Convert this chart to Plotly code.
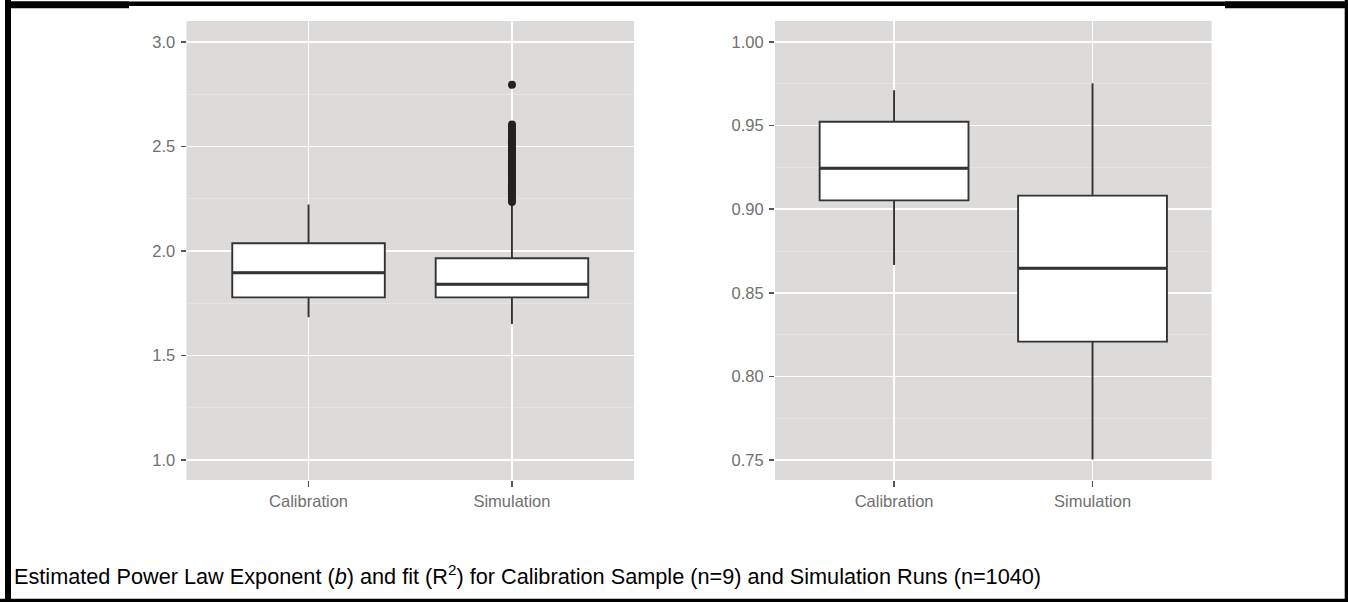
import plotly.graph_objects as go

W, H = 1348, 602

categories = ["Calibration", "Simulation"]

# Left panel: estimated power law exponent b
b_q1 = [1.778, 1.778]
b_median = [1.896, 1.841]
b_q3 = [2.037, 1.965]
b_lower = [1.683, 1.651]
b_upper = [2.223, 2.228]
b_outliers_sim = [2.235, 2.245, 2.255, 2.265, 2.275, 2.285, 2.295, 2.305, 2.315, 2.325,
                  2.335, 2.345, 2.355, 2.365, 2.375, 2.385, 2.395, 2.405, 2.415, 2.425,
                  2.435, 2.445, 2.455, 2.465, 2.475, 2.485, 2.495, 2.505, 2.515, 2.525,
                  2.535, 2.545, 2.555, 2.565, 2.575, 2.585, 2.595, 2.605, 2.795]

# Right panel: fit R^2
r_q1 = [0.9053, 0.8208]
r_median = [0.9245, 0.8647]
r_q3 = [0.9523, 0.9081]
r_lower = [0.8666, 0.7503]
r_upper = [0.9711, 0.9753]

left_ticks = [1.0, 1.5, 2.0, 2.5, 3.0]
left_ticktext = ["1.0", "1.5", "2.0", "2.5", "3.0"]
right_ticks = [0.75, 0.80, 0.85, 0.90, 0.95, 1.00]
right_ticktext = ["0.75", "0.80", "0.85", "0.90", "0.95", "1.00"]

caption = ("Estimated Power Law Exponent (<i>b</i>) and fit (R<sup>2</sup>) for "
           "Calibration Sample (n=9) and Simulation Runs (n=1040)")

FONT = "Liberation Sans, Arial, sans-serif"
BG = "#DCDBDA"
MINOR = "#E5E4E3"
BOXLINE = "#333333"
TICKC = "#707070"
BOXW = 0.75

pos = [1, 2]


def px_x(p):
    return p / W


def px_y(p):
    return 1 - p / H


fig = go.Figure()

panels = [
    ("x", "y", b_q1, b_median, b_q3, b_lower, b_upper),
    ("x2", "y2", r_q1, r_median, r_q3, r_lower, r_upper),
]
for xa, ya, q1, med, q3, lo, up in panels:
    fig.add_trace(go.Box(
        x=pos, q1=q1, median=med, q3=q3, lowerfence=lo, upperfence=up,
        width=BOXW, whiskerwidth=0, fillcolor="white",
        line=dict(color=BOXLINE, width=1.9), boxpoints=False,
        xaxis=xa, yaxis=ya, showlegend=False, hoverinfo="skip",
    ))
    # thicker median lines, as in ggplot
    for p, m in zip(pos, med):
        fig.add_trace(go.Scatter(
            x=[p - BOXW / 2, p + BOXW / 2], y=[m, m], mode="lines",
            line=dict(color=BOXLINE, width=3), xaxis=xa, yaxis=ya,
            showlegend=False, hoverinfo="skip",
        ))

fig.add_trace(go.Scatter(
    x=[pos[1]] * len(b_outliers_sim), y=b_outliers_sim, mode="markers",
    marker=dict(color="#222222", size=8, line=dict(width=0)),
    xaxis="x", yaxis="y", showlegend=False, hoverinfo="skip",
))

xcommon = dict(
    range=[0.4, 2.6], tickvals=pos, ticktext=categories,
    showgrid=True, gridcolor="white", gridwidth=1.3, zeroline=False,
    ticks="outside", ticklen=6, tickwidth=1.5, tickcolor="#555555",
    tickfont=dict(family=FONT, size=16.5, color=TICKC),
    showline=False, fixedrange=True,
)
ycommon = dict(
    showgrid=True, gridcolor="white", gridwidth=1.6, zeroline=False,
    ticks="outside", ticklen=5, tickwidth=1.5, tickcolor="#555555",
    tickfont=dict(family=FONT, size=16.5, color=TICKC),
    ticklabelstandoff=2,
    showline=False, fixedrange=True,
)

fig.update_layout(
    width=W, height=H,
    margin=dict(l=0, r=0, t=0, b=0, autoexpand=False),
    paper_bgcolor="white", plot_bgcolor=BG,
    showlegend=False,
    xaxis=dict(domain=[px_x(186.5), px_x(634)], anchor="y", **xcommon),
    yaxis=dict(domain=[px_y(480), px_y(21)], anchor="x",
               range=[0.9043, 3.1005], tickvals=left_ticks, ticktext=left_ticktext,
               minor=dict(dtick=0.25, tick0=0, showgrid=True, gridcolor=MINOR, gridwidth=1, ticks=""),
               **ycommon),
    xaxis2=dict(domain=[px_x(775), px_x(1211.6)], anchor="y2", **xcommon),
    yaxis2=dict(domain=[px_y(480), px_y(21)], anchor="x2",
                range=[0.73804, 1.01256], tickvals=right_ticks, ticktext=right_ticktext,
                minor=dict(dtick=0.025, tick0=0, showgrid=True, gridcolor=MINOR, gridwidth=1, ticks=""),
                **ycommon),
)

fig.add_annotation(
    text=caption, xref="paper", yref="paper",
    x=px_x(12), y=px_y(575), xanchor="left", yanchor="middle",
    showarrow=False, font=dict(family=FONT, size=21.7, color="black"),
)

frame = [
    (5, 1.5, W, 6),
    (5, 1.5, 129, 8.3),
    (1225, 1.5, W, 8.3),
    (5, 0, 11, H),
    (1344.7, 0, W, H),
    (0, 598.7, W, H),
]
for x0, y0, x1, y1 in frame:
    fig.add_shape(type="rect", xref="paper", yref="paper",
                  x0=px_x(x0), x1=px_x(x1), y0=px_y(y1), y1=px_y(y0),
                  fillcolor="black", line=dict(width=0), layer="above")

fig.write_html(
    "out.html",
    config={"displayModeBar": False, "staticPlot": True},
    post_script="document.body.style.margin='0';document.body.style.overflow='hidden';",
)
